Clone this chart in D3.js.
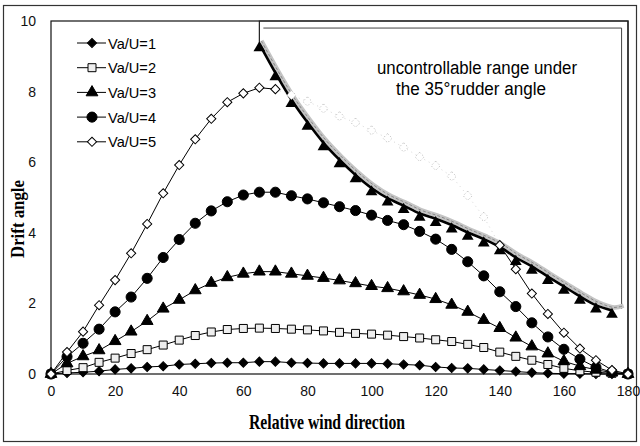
<!DOCTYPE html>
<html>
<head>
<meta charset="utf-8">
<script src="https://cdn.jsdelivr.net/npm/d3@7"></script>
<style>
  body { margin: 0; background: #fff; }
  svg { display: block; }
</style>
</head>
<body>
<div id="chart"></div>
<script>
// wind direction in degrees, every 5 deg
var windDir = d3.range(0, 181, 5);
var xTicks = [0, 20, 40, 60, 80, 100, 120, 140, 160, 180];
var yTicks = [0, 2, 4, 6, 8, 10];

var va1 = [0, 0.03, 0.05, 0.08, 0.13, 0.16, 0.2, 0.22, 0.27, 0.29, 0.31, 0.32, 0.32, 0.35, 0.35, 0.32, 0.31, 0.3, 0.3,
  0.3, 0.3, 0.29, 0.27, 0.25, 0.2, 0.17, 0.16, 0.13, 0.1, 0.07, 0.04, 0.02, 0.01, 0.01, 0, 0, 0];
var va2 = [0, 0.1, 0.18, 0.33, 0.45, 0.58, 0.69, 0.82, 0.96, 1.09, 1.19, 1.26, 1.29, 1.3, 1.29, 1.27, 1.25, 1.22, 1.18,
  1.15, 1.13, 1.1, 1.06, 1.02, 0.97, 0.92, 0.84, 0.75, 0.62, 0.5, 0.39, 0.27, 0.16, 0.09, 0.05, 0.02, 0];
var va3 = [0, 0.3, 0.5, 0.67, 0.93, 1.2, 1.5, 1.85, 2.1, 2.37, 2.58, 2.74, 2.84, 2.9, 2.9, 2.84, 2.78, 2.72, 2.65,
  2.57, 2.49, 2.43, 2.34, 2.24, 2.12, 1.96, 1.76, 1.53, 1.3, 1.03, 0.78, 0.58, 0.36, 0.22, 0.12, 0.04, 0];
var va4 = [0, 0.49, 0.87, 1.27, 1.76, 2.18, 2.71, 3.3, 3.81, 4.27, 4.62, 4.88, 5.07, 5.15, 5.15, 5.05, 4.96, 4.85, 4.74,
  4.63, 4.5, 4.35, 4.23, 4.04, 3.82, 3.53, 3.18, 2.78, 2.33, 1.91, 1.45, 1.05, 0.7, 0.42, 0.19, 0.05, 0];
var va5 = [0, 0.62, 1.2, 1.95, 2.66, 3.42, 4.25, 5.12, 5.92, 6.65, 7.23, 7.7, 7.95, 8.11, 8.07, 7.9, 7.72, 7.52, 7.3,
  7.12, 6.9, 6.68, 6.42, 6.15, 5.9, 5.6, 5.05, 4.45, 3.65, 2.97, 2.28, 1.7, 1.17, 0.72, 0.39, 0.11, 0];

// limit of the uncontrollable range (35 deg rudder)
var limitDir = d3.range(65, 176, 5);
var limitAngle = [9.35, 8.53, 7.77, 7.13, 6.55, 6.07, 5.64, 5.27, 4.98, 4.77, 4.55, 4.4, 4.22, 4.01, 3.82, 3.6,
  3.3, 3.05, 2.76, 2.48, 2.2, 1.95, 1.8];
var limitEnd = [178, 1.85];
var regionTop = [10, 9.8];
var va5HiddenFrom = 70, va5HiddenTo = 140;

var seriesNames = ["Va/U=1", "Va/U=2", "Va/U=3", "Va/U=4", "Va/U=5"];
var seriesData = [va1, va2, va3, va4, va5];

var svg = d3.select("#chart").append("svg")
  .attr("width", 640)
  .attr("height", 446);

var x = d3.scaleLinear().domain([0, 180]).range([51, 628]);
var y = d3.scaleLinear().domain([0, 10]).range([374, 21]);

// outer frame
svg.append("rect")
  .attr("x", 3.5).attr("y", 5.5)
  .attr("width", 633).attr("height", 436)
  .attr("fill", "none").attr("stroke", "#333").attr("stroke-width", 1.2);

// plot frame
svg.append("rect")
  .attr("x", x(0)).attr("y", y(10))
  .attr("width", x(180) - x(0)).attr("height", y(0) - y(10))
  .attr("fill", "none").attr("stroke", "#111").attr("stroke-width", 1.2);

// axes
var font = "'Liberation Sans', Arial, sans-serif";
var xAxis = svg.append("g")
  .attr("transform", "translate(0," + y(0) + ")")
  .call(d3.axisBottom(x).tickValues(xTicks).tickSize(0).tickPadding(12));
var yAxis = svg.append("g")
  .attr("transform", "translate(" + x(0) + ",0)")
  .call(d3.axisLeft(y).tickValues(yTicks).tickSize(0).tickPadding(15));
[xAxis, yAxis].forEach(function(a) {
  a.select(".domain").remove();
  a.selectAll("text").style("font-family", font).style("font-size", "14px").attr("fill", "#111");
});

svg.append("text")
  .attr("x", 327).attr("y", 429)
  .attr("text-anchor", "middle")
  .attr("textLength", 156).attr("lengthAdjust", "spacingAndGlyphs")
  .style("font-family", "'Liberation Serif', 'Times New Roman', serif")
  .style("font-weight", "bold").style("font-size", "20px")
  .text("Relative wind direction");

svg.append("text")
  .attr("transform", "translate(24,219) rotate(-90)")
  .attr("text-anchor", "middle")
  .attr("textLength", 78).attr("lengthAdjust", "spacingAndGlyphs")
  .style("font-family", "'Liberation Serif', 'Times New Roman', serif")
  .style("font-weight", "bold").style("font-size", "19px")
  .text("Drift angle");

// uncontrollable region box
var regionPath = d3.path();
regionPath.moveTo(x(limitDir[0]), y(limitAngle[0]));
regionPath.lineTo(x(limitDir[0]), y(regionTop[0]));
regionPath.lineTo(x(180), y(regionTop[0]));
regionPath.lineTo(x(180), y(0));
svg.append("path").attr("d", regionPath.toString())
  .attr("fill", "none").attr("stroke", "#222").attr("stroke-width", 1.2);

var innerPath = d3.path();
innerPath.moveTo(x(limitDir[0]) + 4, y(regionTop[1]));
innerPath.lineTo(x(limitEnd[0]), y(regionTop[1]));
innerPath.lineTo(x(limitEnd[0]), y(limitEnd[1]));
svg.append("path").attr("d", innerPath.toString())
  .attr("fill", "none").attr("stroke", "#444").attr("stroke-width", 1);

var limitPts = limitDir.map(function(d, i) { return [d, limitAngle[i]]; });
var bandLine = d3.line().curve(d3.curveCatmullRom)
  .x(function(d) { return x(d[0]); })
  .y(function(d) { return y(d[1]); });

svg.append("path")
  .datum(limitPts.concat([limitEnd]))
  .attr("d", bandLine)
  .attr("transform", "translate(2,-3)")
  .attr("fill", "none").attr("stroke", "#c4c4c4").attr("stroke-width", 4.5);
svg.append("path")
  .datum(limitPts.concat([limitEnd]))
  .attr("d", bandLine)
  .attr("transform", "translate(2,-3)")
  .attr("fill", "none").attr("stroke", "#777").attr("stroke-width", 0.8)
  .attr("stroke-dasharray", "3,2");
svg.append("path")
  .datum(limitPts)
  .attr("d", bandLine)
  .attr("fill", "none").attr("stroke", "#000").attr("stroke-width", 2.6);

// markers
var symbolTypes = [d3.symbolSquare, d3.symbolSquare, d3.symbolTriangle, d3.symbolCircle, d3.symbolSquare];
var symbolSizes = [42, 64, 60, 80, 42];
var symbolRotate = [45, 0, 0, 0, 45];
var symbolFill = ["#000", "#eee", "#000", "#000", "#fff"];

function drawMarker(g, i, px, py, faint) {
  g.append("path")
    .attr("d", d3.symbol().type(symbolTypes[i]).size(symbolSizes[i])())
    .attr("transform", "translate(" + px + "," + py + ") rotate(" + symbolRotate[i] + ")")
    .attr("fill", faint ? "#fff" : symbolFill[i])
    .attr("stroke", faint ? "#bbb" : "#000")
    .attr("stroke-width", faint ? 0.8 : 1)
    .attr("stroke-dasharray", faint ? "1.5,2" : null);
}

svg.selectAll(".tri").data(limitPts).enter()
  .append("path")
  .attr("d", d3.symbol().type(d3.symbolTriangle).size(60)())
  .attr("transform", function(d) { return "translate(" + x(d[0]) + "," + (y(d[1]) + 4) + ")"; })
  .attr("fill", "#000");

var line = d3.line()
  .x(function(d) { return x(d[0]); })
  .y(function(d) { return y(d[1]); });

seriesData.forEach(function(vals, i) {
  var pts = windDir.map(function(d, j) { return [d, vals[j]]; });
  var g = svg.append("g");
  if (i === 4) {
    var before = pts.filter(function(d) { return d[0] <= va5HiddenFrom; });
    var hidden = pts.filter(function(d) { return d[0] >= va5HiddenFrom && d[0] <= va5HiddenTo; });
    var after = pts.filter(function(d) { return d[0] >= va5HiddenTo; });
    g.append("path").datum(hidden).attr("d", line)
      .attr("fill", "none").attr("stroke", "#ccc").attr("stroke-width", 0.8).attr("stroke-dasharray", "1,4");
    [before, after].forEach(function(p) {
      g.append("path").datum(p).attr("d", line)
        .attr("fill", "none").attr("stroke", "#000").attr("stroke-width", 1);
    });
    pts.forEach(function(d) {
      var faint = d[0] > va5HiddenFrom && d[0] < va5HiddenTo;
      drawMarker(g, i, x(d[0]), y(d[1]), faint);
    });
  } else {
    g.append("path").datum(pts).attr("d", line)
      .attr("fill", "none").attr("stroke", "#000").attr("stroke-width", 1);
    pts.forEach(function(d) { drawMarker(g, i, x(d[0]), y(d[1]), false); });
  }
});

// legend
var legend = svg.append("g");
seriesNames.forEach(function(name, i) {
  var ly = 43 + i * 24.7;
  legend.append("line")
    .attr("x1", 77).attr("x2", 106).attr("y1", ly).attr("y2", ly)
    .attr("stroke", "#000").attr("stroke-width", 1);
  drawMarker(legend, i, 92, ly, false);
  legend.append("text")
    .attr("x", 108).attr("y", ly + 5.5)
    .attr("textLength", 48).attr("lengthAdjust", "spacingAndGlyphs")
    .style("font-family", font).style("font-size", "15px")
    .text(name);
});

svg.append("text")
  .attr("x", 477).attr("y", 74)
  .attr("text-anchor", "middle")
  .attr("textLength", 200).attr("lengthAdjust", "spacingAndGlyphs")
  .style("font-family", font).style("font-size", "18px")
  .text("uncontrollable range under");
svg.append("text")
  .attr("x", 471).attr("y", 95)
  .attr("text-anchor", "middle")
  .attr("textLength", 150).attr("lengthAdjust", "spacingAndGlyphs")
  .style("font-family", font).style("font-size", "18px")
  .text("the 35\u00b0rudder angle");
</script>
</body>
</html>
